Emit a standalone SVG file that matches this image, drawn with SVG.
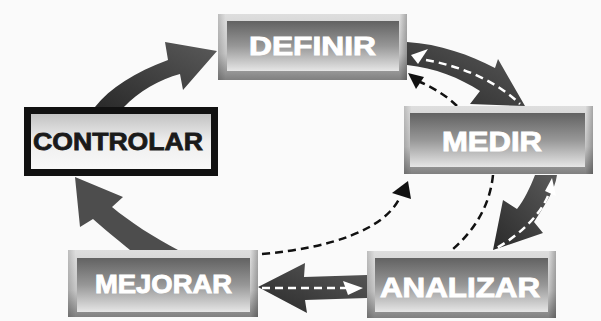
<svg xmlns="http://www.w3.org/2000/svg" width="601" height="321" viewBox="0 0 601 321">
<defs>
<linearGradient id="frame" x1="0" y1="0" x2="0" y2="1">
<stop offset="0" stop-color="#dedede"/><stop offset="0.6" stop-color="#c4c4c4"/><stop offset="1" stop-color="#808080"/>
</linearGradient>
<linearGradient id="edge" x1="0" y1="0" x2="1" y2="0">
<stop offset="0" stop-color="#000" stop-opacity="0.15"/><stop offset="0.04" stop-color="#000" stop-opacity="0"/><stop offset="0.96" stop-color="#000" stop-opacity="0"/><stop offset="1" stop-color="#000" stop-opacity="0.25"/>
</linearGradient>
<linearGradient id="inner" x1="0" y1="0" x2="0" y2="1">
<stop offset="0" stop-color="#626262"/><stop offset="0.5" stop-color="#979797"/><stop offset="1" stop-color="#e6e6e6"/>
</linearGradient>
<linearGradient id="ctrl" x1="0" y1="0" x2="0" y2="1">
<stop offset="0" stop-color="#bdbdbd"/><stop offset="0.5" stop-color="#eee"/><stop offset="1" stop-color="#fafafa"/>
</linearGradient>
<linearGradient id="arr" x1="0" y1="1" x2="1" y2="0">
<stop offset="0" stop-color="#2a2a2a"/><stop offset="1" stop-color="#5a5a5a"/>
</linearGradient>
<style>
.frame{fill:url(#frame)}
.edge{fill:url(#edge)}
.inner{fill:url(#inner)}
.lbl{font-family:"Liberation Sans",Arial,sans-serif;font-weight:bold;fill:#fff;stroke:#fff;stroke-width:0.9;text-anchor:middle}
.big{fill:url(#arr)}
.wd{fill:none;stroke:#fff;stroke-width:2.5;stroke-dasharray:8 5}
.bd{fill:none;stroke:#111;stroke-width:2.5;stroke-dasharray:8 5}
.wh{fill:#fff}
.bh{fill:#111}
</style>
</defs>
<rect width="601" height="321" fill="#fafafa"/>

<g id="connectors">
<!-- CONTROLAR -> DEFINIR -->
<path class="big" d="M95,107 C110,88 135,72 168,60 L165,42 L217,51 L183,90 L180,74 C160,79 138,92 124,107 Z"/>
<!-- MEJORAR -> CONTROLAR -->
<path d="M130,250 C118,240 103,228 93,219 L80,227 L75,177 L123,197 L112,207 C130,222 155,238 178,250 Z" fill="#4d4d4d"/>
<!-- DEFINIR -> MEDIR -->
<path class="big" d="M407,42 C440,44 470,55 495,68 L498,59 L525,106 L470,104 L480,91 C460,78 435,68 407,65 Z"/>
<path class="wh" d="M411,55 L428,49 L418,64 Z"/>
<path class="wd" d="M426,60 C460,66 495,80 520,104"/>
<path class="bd" d="M457,106 C448,97 434,88 420,82"/>
<path class="bh" d="M408,73 L424,77 L416,89 Z"/>
<!-- MEDIR -> ANALIZAR -->
<path class="big" d="M535,175 C530,188 524,200 517,209 L503,200 L493,250 L543,233 L534,222 C545,205 555,190 557,175 Z"/>
<path class="wh" d="M552,178 L556,196 L545,191 Z"/>
<path class="wd" d="M548,196 C540,215 520,235 495,249"/>
<path class="bd" d="M493,175 C490,205 475,230 452,250"/>
<!-- MEJORAR ... -> MEDIR dashed -->
<path class="bd" d="M262,254 C330,248 385,230 400,197"/>
<path class="bh" d="M408,181 L411,199 L392,193 Z"/>
<!-- ANALIZAR -> MEJORAR -->
<path class="big" d="M258,287 L305,263 L304,277 L367,275 L367,298 L305,300 L307,313 Z"/>
<path class="wd" d="M262,288 L346,288"/>
<path class="wh" d="M363,288 L343,281 L348,295 Z"/>
</g>

<g id="node-definir">
<rect class="frame" x="218" y="14" width="189" height="66"/>
<rect class="edge" x="218" y="14" width="189" height="66"/>
<rect class="inner" x="227" y="21" width="172" height="50"/>
<text class="lbl" x="312.5" y="55" font-size="26" textLength="127" lengthAdjust="spacingAndGlyphs">DEFINIR</text>
</g>

<g id="node-medir">
<rect class="frame" x="404" y="106" width="189" height="68"/>
<rect class="edge" x="404" y="106" width="189" height="68"/>
<rect class="inner" x="410" y="113" width="175" height="54"/>
<text class="lbl" x="492" y="151" font-size="27" textLength="100" lengthAdjust="spacingAndGlyphs">MEDIR</text>
</g>

<g id="node-controlar">
<rect x="27.5" y="110.5" width="187" height="62" fill="url(#ctrl)" stroke="#111" stroke-width="7"/>
<text x="118" y="150" font-family="Liberation Sans,Arial,sans-serif" font-weight="bold" font-size="24" fill="#1a1a1a" stroke="#1a1a1a" stroke-width="0.8" text-anchor="middle" textLength="170" lengthAdjust="spacingAndGlyphs">CONTROLAR</text>
</g>

<g id="node-mejorar">
<rect class="frame" x="68" y="250" width="190" height="67"/>
<rect class="edge" x="68" y="250" width="190" height="67"/>
<rect class="inner" x="77" y="258" width="173" height="54"/>
<text class="lbl" x="163.5" y="293" font-size="25" textLength="137" lengthAdjust="spacingAndGlyphs">MEJORAR</text>
</g>

<g id="node-analizar">
<rect class="frame" x="367" y="251" width="189" height="67"/>
<rect class="edge" x="367" y="251" width="189" height="67"/>
<rect class="inner" x="375" y="258" width="173" height="54"/>
<text class="lbl" x="460" y="297" font-size="27" textLength="160" lengthAdjust="spacingAndGlyphs">ANALIZAR</text>
</g>
</svg>
